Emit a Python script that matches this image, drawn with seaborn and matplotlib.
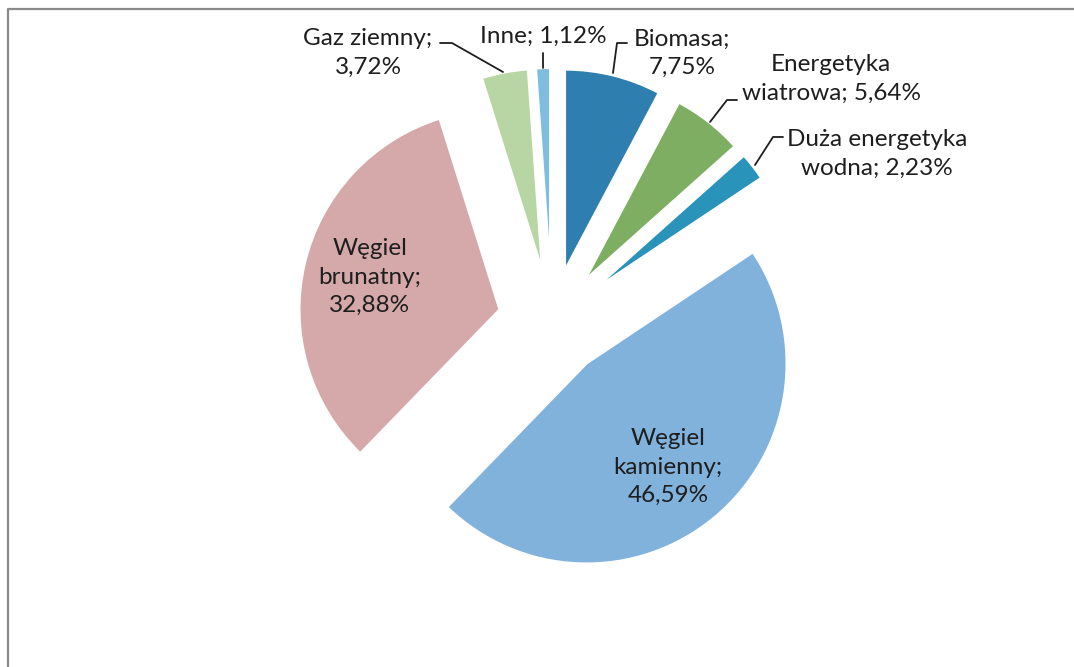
import matplotlib
matplotlib.use("Agg")
import matplotlib.pyplot as plt
import seaborn as sns

# data, clockwise from 12 o'clock
sources = ["Biomasa", "Energetyka wiatrowa", "Duża energetyka wodna",
           "Węgiel kamienny", "Węgiel brunatny", "Gaz ziemny", "Inne"]
shares = [7.75, 5.64, 2.23, 46.59, 32.88, 3.72, 1.12]
colors = ["#2F7EB0", "#7DAE61", "#2A93BA", "#80B2DC", "#D5A9A9", "#B7D6A3", "#7EBDE2"]

label_text = [
    "Biomasa;\n7,75%",
    "Energetyka\nwiatrowa; 5,64%",
    "Duża energetyka\nwodna; 2,23%",
    "Węgiel\nkamienny;\n46,59%",
    "Węgiel\nbrunatny;\n32,88%",
    "Gaz ziemny;\n3,72%",
    "Inne; 1,12%",
]

sns.set_theme(style="white")
plt.rcParams["font.family"] = ["Lato", "DejaVu Sans"]

W, H = 1074, 667
fig = plt.figure(figsize=(W / 100, H / 100), dpi=100)
ax = fig.add_axes([0, 0, 1, 1])

# pie drawn in pixel units (y measured from bottom); explode is absolute here
cx, cy, r = 552, H - 322, 200
ax.pie(shares, colors=colors, startangle=90, counterclock=False,
       explode=[0.27 * r] * len(shares), radius=r, center=(cx, cy),
       wedgeprops=dict(edgecolor="white", linewidth=1.5))

ax.set_xlim(0, W)
ax.set_ylim(0, H)
ax.set_aspect("auto")
ax.axis("off")

txt = dict(fontsize=17.5, color="#1e1e1e", ha="center", va="center", linespacing=1.42)
label_pos = [(682, 53), (831, 79), (877, 154), (668, 467), (370, 277), (368, 53), (543, 36)]
for t, (x, y) in zip(label_text, label_pos):
    ax.text(x, H - y, t, **txt)

# leader lines
leaders = [
    [(627, 43), (617, 43), (613, 73)],
    [(737, 100), (727, 100), (710, 122)],
    [(783, 137), (773, 137), (755, 165)],
    [(440, 43), (452, 43), (503, 72)],
    [(543, 53), (543, 68)],
]
for pts in leaders:
    xs = [p[0] for p in pts]
    ys = [H - p[1] for p in pts]
    ax.plot(xs, ys, color="#1e1e1e", lw=1.3)

# frame of the scanned chart
ax.plot([8, 8, W], [0, H - 9, H - 9], color="#8a8a8a", lw=1.6)

fig.savefig("out.png", dpi=100)
